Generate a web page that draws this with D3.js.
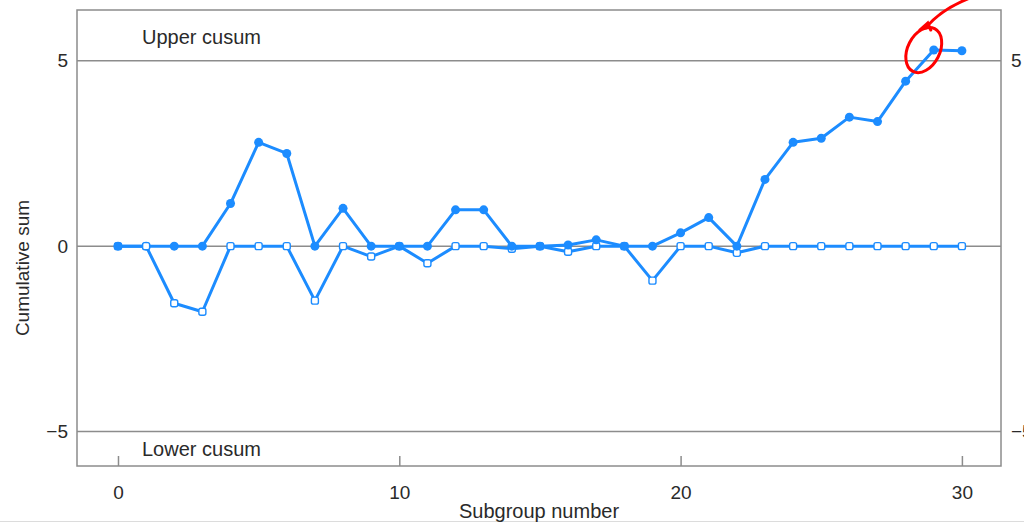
<!DOCTYPE html>
<html>
<head>
<meta charset="utf-8">
<script src="https://cdn.jsdelivr.net/npm/d3@7"></script>
<style>
  body { margin: 0; background: #fff; }
  text { font-family: 'Liberation Sans', Arial, sans-serif; fill: #2a2a2a; }
</style>
</head>
<body>
<svg id="chart" width="1024" height="523"></svg>
<script>
// subgroup numbers 0..30
const subgroups = [0, 1, 2, 3, 4, 5, 6, 7, 8, 9, 10, 11, 12, 13, 14, 15, 16, 17, 18, 19, 20, 21, 22, 23, 24, 25, 26, 27, 28, 29, 30];
// upper cusum (filled markers)
const upper = [0, 0, 0, 0, 1.15, 2.80, 2.50, 0, 1.02, 0, 0, 0, 0.98, 0.98, 0, 0, 0.03, 0.17, 0, 0, 0.36, 0.77, 0, 1.80, 2.80, 2.91, 3.48, 3.36, 4.45, 5.29, 5.27];
// lower cusum (open markers)
const lower = [0, 0, -1.54, -1.77, 0, 0, 0, -1.47, 0, -0.28, 0, -0.46, 0, 0, -0.07, 0, -0.15, 0, 0, -0.93, 0, 0, -0.18, 0, 0, 0, 0, 0, 0, 0, 0];
const xTicks = [0, 10, 20, 30];
const refLines = [5, 0, -5];
const yLabels = ['5', '0', '\u22125'];

const blue = '#1c8cff';
const grey = '#8c8c8c';

const svg = d3.select('#chart');

const x = d3.scaleLinear().domain([-1.457, 31.39]).range([77, 1001]);
const y = d3.scaleLinear().domain([-5.93, 6.37]).range([466, 10]);

// light page border at bottom
svg.append('line')
  .attr('x1', 0).attr('x2', 1024)
  .attr('y1', 521.5).attr('y2', 521.5)
  .attr('stroke', '#dcdcdc');

// reference lines
svg.selectAll('line.ref')
  .data(refLines)
  .enter()
  .append('line')
  .attr('class', 'ref')
  .attr('x1', x.range()[0]).attr('x2', x.range()[1])
  .attr('y1', (d) => y(d)).attr('y2', (d) => y(d))
  .attr('stroke', grey)
  .attr('stroke-width', 1.5);

// frame
svg.append('rect')
  .attr('x', 77).attr('y', 10)
  .attr('width', 1001 - 77).attr('height', 466 - 10)
  .attr('fill', 'none')
  .attr('stroke', grey)
  .attr('stroke-width', 1.5);

// x axis, ticks point inward
const xAxis = d3.axisBottom(x).tickValues(xTicks).tickSize(-10).tickPadding(20);
const gx = svg.append('g').attr('transform', 'translate(0,466)').call(xAxis);
gx.select('.domain').remove();
gx.selectAll('.tick line').attr('stroke', grey).attr('stroke-width', 1.5);
gx.selectAll('.tick text')
  .attr('font-size', 19)
  .attr('fill', '#2a2a2a')
  .attr('font-family', 'Liberation Sans, Arial, sans-serif');

// y labels, left and right
svg.selectAll('text.yl')
  .data(refLines)
  .enter()
  .append('text')
  .attr('class', 'yl')
  .attr('x', 68)
  .attr('y', (d) => y(d))
  .attr('dy', '0.35em')
  .attr('text-anchor', 'end')
  .attr('font-size', 19)
  .text((d, i) => yLabels[i]);

// right side labels run off the edge of the picture, as in the original
svg.selectAll('text.yr')
  .data(refLines.filter((d) => d !== 0))
  .enter()
  .append('text')
  .attr('class', 'yr')
  .attr('x', 1011)
  .attr('y', (d) => y(d))
  .attr('dy', '0.35em')
  .attr('font-size', 19)
  .text((d) => (d < 0 ? '\u22125' : '5'));

// titles
svg.append('text')
  .attr('x', 142).attr('y', 44)
  .attr('font-size', 20)
  .text('Upper cusum');
svg.append('text')
  .attr('x', 142).attr('y', 456)
  .attr('font-size', 20)
  .text('Lower cusum');
svg.append('text')
  .attr('x', 539).attr('y', 518)
  .attr('text-anchor', 'middle')
  .attr('font-size', 20)
  .text('Subgroup number');
svg.append('text')
  .attr('transform', 'translate(29,268) rotate(-90)')
  .attr('text-anchor', 'middle')
  .attr('font-size', 19)
  .text('Cumulative sum');

// series
const line = d3.line()
  .x((d, i) => x(subgroups[i]))
  .y((d) => y(d));

svg.append('path')
  .datum(lower)
  .attr('d', line)
  .attr('fill', 'none')
  .attr('stroke', blue)
  .attr('stroke-width', 3)
  .attr('stroke-linejoin', 'round');

svg.append('path')
  .datum(upper)
  .attr('d', line)
  .attr('fill', 'none')
  .attr('stroke', blue)
  .attr('stroke-width', 3)
  .attr('stroke-linejoin', 'round');

// filled markers first, open markers drawn over them only at subgroup 1
const upPts = upper.map((v, i) => ({ v, i }));
const loPts = lower.map((v, i) => ({ v, i }));

svg.selectAll('rect.lo')
  .data(loPts.filter((d) => d.i !== 1))
  .enter()
  .append('rect')
  .attr('class', 'lo')
  .attr('x', (d) => x(subgroups[d.i]) - 3.5)
  .attr('y', (d) => y(d.v) - 3.5)
  .attr('width', 7).attr('height', 7)
  .attr('rx', 2)
  .attr('fill', '#fff')
  .attr('stroke', blue)
  .attr('stroke-width', 1.4);

svg.selectAll('circle.up')
  .data(upPts)
  .enter()
  .append('circle')
  .attr('class', 'up')
  .attr('cx', (d) => x(subgroups[d.i]))
  .attr('cy', (d) => y(d.v))
  .attr('r', 4.5)
  .attr('fill', blue);

svg.selectAll('rect.lo1')
  .data(loPts.filter((d) => d.i === 1))
  .enter()
  .append('rect')
  .attr('class', 'lo1')
  .attr('x', (d) => x(subgroups[d.i]) - 3.5)
  .attr('y', (d) => y(d.v) - 3.5)
  .attr('width', 7).attr('height', 7)
  .attr('rx', 2)
  .attr('fill', '#fff')
  .attr('stroke', blue)
  .attr('stroke-width', 1.4);

// red hand-drawn annotation round subgroup 29
const px = x(subgroups[29]);
const py = y(upper[29]);
svg.append('ellipse')
  .attr('cx', px - 10).attr('cy', py)
  .attr('rx', 16).attr('ry', 24)
  .attr('transform', `rotate(27,${px - 10},${py})`)
  .attr('fill', 'none')
  .attr('stroke', '#ff0000')
  .attr('stroke-width', 3);
svg.append('path')
  .attr('d', `M${px - 8},${py - 22} Q${px + 6},${py - 40} ${px + 36},${py - 52}`)
  .attr('fill', 'none')
  .attr('stroke', '#ff0000')
  .attr('stroke-width', 3)
  .attr('stroke-linecap', 'round');
svg.append('path')
  .attr('d', `M${px - 14},${py - 20} L${px - 6},${py - 27} L${px - 3},${py - 20}`)
  .attr('fill', 'none')
  .attr('stroke', '#ff0000')
  .attr('stroke-width', 3)
  .attr('stroke-linecap', 'round');
</script>
</body>
</html>
